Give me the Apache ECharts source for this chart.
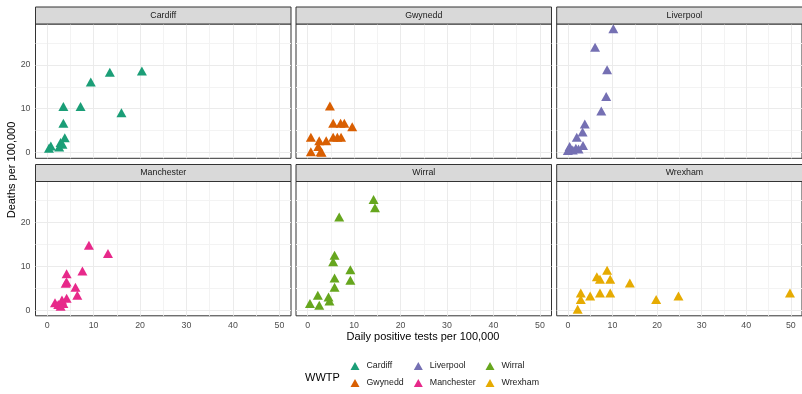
<!DOCTYPE html>
<html>
<head>
<meta charset="utf-8">
<script src="https://cdn.jsdelivr.net/npm/echarts@6/dist/echarts.min.js"></script>
<style>
  html, body { margin: 0; padding: 0; background: #ffffff; }
  #chart { width: 802px; height: 394px; }
</style>
</head>
<body>
<div id="chart"></div>
<script>
// ---------- data ----------
const sites = ['Cardiff', 'Gwynedd', 'Liverpool', 'Manchester', 'Wirral', 'Wrexham'];
const siteColors = ['#1B9E77', '#D95F02', '#7570B3', '#E7298A', '#66A61E', '#E6AB02'];

const cardiffTests  = [0.4, 0.8, 2.6, 2.9, 3.8, 3.3, 3.5, 3.5, 7.2, 9.4, 13.5, 20.4, 16.0];
const cardiffDeaths = [1.0, 1.5, 1.3, 2.3, 3.4, 1.9, 6.7, 10.5, 10.5, 16.1, 18.3, 18.6, 9.1];

const gwyneddTests  = [4.8, 5.5, 7.1, 7.9, 9.6, 0.7, 2.5, 4.0, 5.5, 6.4, 7.2, 0.7, 2.3, 2.8, 3.0];
const gwyneddDeaths = [10.6, 6.7, 6.7, 6.7, 5.9, 3.5, 2.7, 2.7, 3.5, 3.5, 3.5, 0.2, 1.4, 0.2, 0.1];

const liverpoolTests  = [10.2, 6.1, 8.8, 8.6, 7.5, 3.8, 3.3, 2.0, 3.4, 0.4, 1.1, 1.8, 2.4, 0.0];
const liverpoolDeaths = [28.2, 24.0, 18.9, 12.8, 9.5, 6.5, 4.7, 3.5, 1.6, 1.4, 0.6, 1.0, 0.8, 0.5];

const manchesterTests  = [9.0, 13.1, 7.6, 4.2, 4.2, 4.0, 6.1, 6.5, 4.2, 1.7, 2.4, 2.9, 3.5, 3.2];
const manchesterDeaths = [14.8, 12.9, 8.9, 8.3, 6.4, 6.1, 5.2, 3.4, 2.7, 1.7, 1.3, 0.9, 1.5, 2.3];

const wirralTests  = [14.2, 14.5, 6.8, 5.8, 5.5, 9.2, 9.2, 5.8, 5.8, 2.2, 4.5, 4.7, 0.5, 2.5];
const wirralDeaths = [25.2, 23.3, 21.2, 12.5, 11.0, 9.2, 6.8, 7.3, 5.2, 3.4, 3.0, 2.1, 1.5, 1.1];

const wrexhamTests  = [2.2, 2.9, 2.9, 5.0, 6.5, 7.2, 8.8, 9.5, 7.2, 9.5, 13.9, 19.8, 24.8, 49.8];
const wrexhamDeaths = [0.2, 3.9, 2.4, 3.2, 7.6, 7.0, 9.1, 7.0, 3.9, 3.9, 6.2, 2.4, 3.2, 3.9];

const testsBySite  = [cardiffTests, gwyneddTests, liverpoolTests, manchesterTests, wirralTests, wrexhamTests];
const deathsBySite = [cardiffDeaths, gwyneddDeaths, liverpoolDeaths, manchesterDeaths, wirralDeaths, wrexhamDeaths];

const xTickLabels = [0, 10, 20, 30, 40, 50];
const yTickLabels = [0, 10, 20];
const xMajorGrid = [0, 10, 20, 30, 40, 50];
const xMinorGrid = [5, 15, 25, 35, 45];
const yMajorGrid = [0, 10, 20];
const yMinorGrid = [5, 15, 25];

const xTitle = 'Daily positive tests per 100,000';
const yTitle = 'Deaths per 100,000';
const legendTitle = 'WWTP';

// ---------- layout ----------
const FONT = '"Liberation Sans", Arial, Helvetica, sans-serif';
const colLeft = [35.5, 296.0, 556.7];
const panelW = 255.5;
const rowTop = [24.0, 181.5];
const panelH = 134.3;
const stripH = 17;
const xRange = [-2.5, 52.5];
const yRange = [-1.3, 29.3];

const grids = [], xAxes = [], yAxes = [], series = [], graphics = [];

sites.forEach((name, i) => {
  const col = i % 3, row = Math.floor(i / 3);
  const left = colLeft[col], top = rowTop[row];
  grids.push({
    left: left, top: top, width: panelW, height: panelH,
    show: true, backgroundColor: '#ffffff', borderColor: '#333333', borderWidth: 1,
    containLabel: false
  });
  const bottomRow = row === 1;
  const leftCol = col === 0;
  xAxes.push({
    type: 'value', gridIndex: i, min: xRange[0], max: xRange[1],
    axisLine: { show: false },
    splitLine: { show: false },
    axisTick: { show: bottomRow, customValues: xTickLabels, length: 3, lineStyle: { color: '#333333', width: 1 } },
    axisLabel: { show: bottomRow, customValues: xTickLabels, color: '#4D4D4D', fontSize: 8.8, fontFamily: FONT, margin: 5 }
  });
  yAxes.push({
    type: 'value', gridIndex: i, min: yRange[0], max: yRange[1],
    axisLine: { show: false },
    splitLine: { show: false },
    axisTick: { show: leftCol, customValues: yTickLabels, length: 3, lineStyle: { color: '#333333', width: 1 } },
    axisLabel: { show: leftCol, customValues: yTickLabels, color: '#4D4D4D', fontSize: 8.8, fontFamily: FONT, margin: 5 }
  });

  const lines = [];
  xMinorGrid.forEach(v => lines.push({ xAxis: v, lineStyle: { color: '#F3F3F3', width: 1, type: 'solid' } }));
  yMinorGrid.forEach(v => lines.push({ yAxis: v, lineStyle: { color: '#F3F3F3', width: 1, type: 'solid' } }));
  xMajorGrid.forEach(v => lines.push({ xAxis: v, lineStyle: { color: '#EBEBEB', width: 1, type: 'solid' } }));
  yMajorGrid.forEach(v => lines.push({ yAxis: v, lineStyle: { color: '#EBEBEB', width: 1, type: 'solid' } }));
  series.push({
    name: 'grid-' + i, type: 'scatter', xAxisIndex: i, yAxisIndex: i, data: [],
    silent: true, animation: false,
    markLine: {
      silent: true, animation: false, z: 1, symbol: ['none', 'none'],
      label: { show: false }, emphasis: { disabled: true },
      data: lines
    }
  });

  series.push({
    name: name, type: 'scatter', xAxisIndex: i, yAxisIndex: i, z: 3,
    symbol: 'triangle', symbolSize: [10, 9],
    itemStyle: { color: siteColors[i], opacity: 1 },
    animation: false,
    data: testsBySite[i].map((x, k) => [x, deathsBySite[i][k]])
  });

  // facet strip
  graphics.push({
    type: 'rect', z: 10,
    shape: { x: left, y: top - stripH, width: panelW, height: stripH },
    style: { fill: '#D9D9D9', stroke: '#333333', lineWidth: 1 }
  });
  graphics.push({
    type: 'text', z: 11,
    x: left + panelW / 2, y: top - stripH / 2,
    style: { text: name, fill: '#1A1A1A', font: '8.8px ' + FONT, align: 'center', verticalAlign: 'middle' }
  });
});

// axis titles
graphics.push({
  type: 'text', z: 11, x: 423, y: 337,
  style: { text: xTitle, fill: '#000000', font: '11px ' + FONT, align: 'center', verticalAlign: 'middle' }
});
graphics.push({
  type: 'text', z: 11, x: 12, y: 170, rotation: Math.PI / 2,
  style: { text: yTitle, fill: '#000000', font: '11px ' + FONT, align: 'center', verticalAlign: 'middle' }
});
graphics.push({
  type: 'text', z: 11, x: 305, y: 377.5,
  style: { text: legendTitle, fill: '#000000', font: '11px ' + FONT, align: 'left', verticalAlign: 'middle' }
});

const legendCols = [[sites[0], sites[1]], [sites[2], sites[3]], [sites[4], sites[5]]];
const legendLeft = [350.5, 413.8, 485.5];
const legends = legendCols.map((items, c) => ({
  orient: 'vertical', left: legendLeft[c], top: 361.5, padding: 0,
  itemWidth: 9, itemHeight: 8, itemGap: 8, icon: 'triangle',
  selectedMode: false,
  textStyle: { fontSize: 8.8, fontFamily: FONT, color: '#1A1A1A', lineHeight: 9, padding: [0, 0, 0, 2] },
  data: items
}));

const chart = echarts.init(document.getElementById('chart'), null, { renderer: 'canvas' });
chart.setOption({
  backgroundColor: '#ffffff',
  animation: false,
  textStyle: { fontFamily: FONT },
  grid: grids,
  xAxis: xAxes,
  yAxis: yAxes,
  legend: legends,
  series: series,
  graphic: graphics
});
</script>
</body>
</html>
